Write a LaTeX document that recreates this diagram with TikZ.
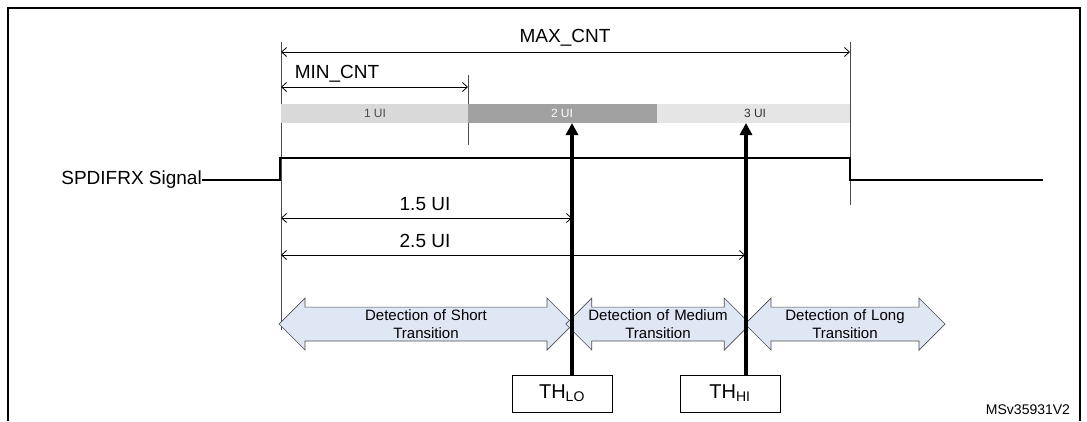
\documentclass[tikz,border=0pt]{standalone}
\usepackage{fontspec}
\setmainfont{Liberation Sans}
\usetikzlibrary{arrows.meta,shapes.arrows}
\definecolor{detfill}{RGB}{222,231,243}
\begin{document}
\begin{tikzpicture}[x=1pt,y=-1pt,
  dim/.style={draw=black,line width=0.8pt,{Straight Barb[length=5pt,width=9pt]}-{Straight Barb[length=5pt,width=9pt]}},
  tick/.style={draw=black!70,line width=0.8pt},
  lbl/.style={font=\fontsize{19}{21}\selectfont,inner sep=0pt},
  small/.style={font=\fontsize{12}{13}\selectfont,inner sep=0pt},
  det/.style={draw=black!70,fill=detfill,line width=0.7pt,font=\fontsize{15}{18}\selectfont,align=center},
  thick arrow/.style={line width=3.5pt,-{Triangle[length=12pt,width=12pt]}},
  thbox/.style={draw,line width=0.8pt,minimum width=100pt,minimum height=37pt,inner sep=0pt,font=\fontsize{20}{22}\selectfont}]
\useasboundingbox (0,0) rectangle (1087,421);
\draw[line width=1.2pt] (8,421) -- (8,8) -- (1080,8) -- (1080,421);
% ticks
\coordinate (L0) at (281,42); \coordinate (L1) at (281,330);
\coordinate (R0) at (850,42); \coordinate (R1) at (850,205);
\coordinate (M0) at (468,75); \coordinate (M1) at (468,145);
\draw[tick] (L0) -- (L1); \draw[tick] (R0) -- (R1); \draw[tick] (M0) -- (M1);
% dimension arrows
\coordinate (a1) at (281,52); \coordinate (a2) at (850,52);
\draw[dim] (a1) -- (a2);
\node[lbl] (maxc) at (565,38) {MAX\_CNT};
\coordinate (b1) at (281,87); \coordinate (b2) at (468,87);
\draw[dim] (b1) -- (b2);
\node[lbl] (minc) at (337,74) {MIN\_CNT};
% UI bar
\fill[black!15] (281,104) rectangle (468,123);
\fill[black!37] (468,104) rectangle (657,123);
\fill[black!10] (657,104) rectangle (850,123);
\node[small,text=black!70] (u1) at (375,113.5) {1 UI};
\node[small,text=white] (u2) at (562,113.5) {2 UI};
\node[small,text=black!80] (u3) at (755,113.5) {3 UI};
% signal
\node[lbl,anchor=east] (sig) at (202,180) {SPDIFRX Signal};
\draw[line width=2pt] (sig.east) -- (280,180) -- (280,158) -- (850,158) -- (850,180) -- (1043,180);
% 1.5 / 2.5 UI
\coordinate (c1) at (281,218); \coordinate (c2) at (572,218);
\draw[dim] (c1) -- (c2);
\node[lbl] (u15) at (425,204) {1.5 UI};
\coordinate (d1) at (281,255); \coordinate (d2) at (745,255);
\draw[dim] (d1) -- (d2);
\node[lbl] (u25) at (425,241) {2.5 UI};
% detection arrows
\node[det,double arrow,double arrow head extend=8pt,minimum height=294pt,minimum width=52pt,inner sep=0pt,text width=200pt] (ds) at (426,324) {Detection of Short\\Transition};
\node[det,double arrow,double arrow head extend=8pt,minimum height=174pt,minimum width=52pt,inner sep=0pt,text width=150pt] (dm) at (658,324) {Detection of Medium\\Transition};
\node[det,double arrow,double arrow head extend=8pt,minimum height=200pt,minimum width=52pt,inner sep=0pt,text width=150pt] (dl) at (845,324) {Detection of Long\\Transition};
% TH boxes
\node[thbox] (thlo) at (562,393.5) {TH\textsubscript{\fontsize{14}{15}\selectfont LO}};
\node[thbox] (thhi) at (730,393.5) {TH\textsubscript{\fontsize{14}{15}\selectfont HI}};
\coordinate (tlo) at (572,123); \coordinate (thi) at (746,123);
\draw[thick arrow] (572,375) -- (tlo);
\draw[thick arrow] (746,375) -- (thi);
\node[font=\fontsize{14}{15}\selectfont,inner sep=0pt] (ms) at (1028,410) {MSv35931V2};
\end{tikzpicture}
\end{document}
